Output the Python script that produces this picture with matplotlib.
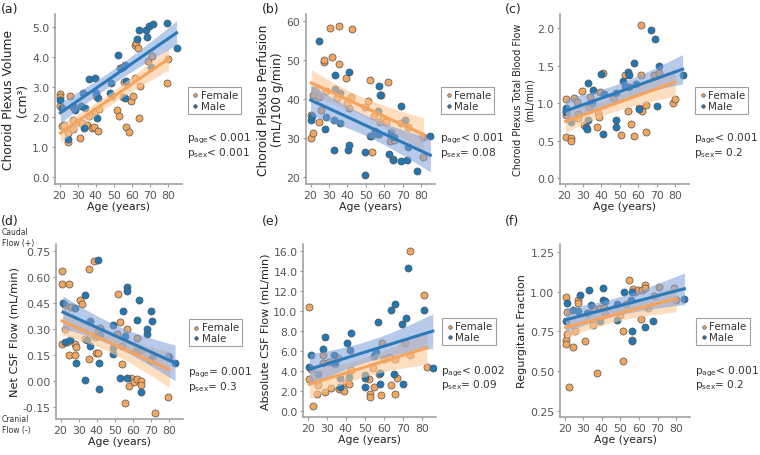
import numpy as np
import matplotlib
matplotlib.use("Agg")
import matplotlib.pyplot as plt

# ---------------- data ----------------
# (a) Choroid plexus volume (cm3)
a_f_age = [20.5, 20.5, 20.5, 21.4, 22.7, 24.6, 24.6, 25.5, 27.3, 27.3, 27.3, 31.2, 30.0, 32.4, 35.0, 36.5,
           37.9, 38.8, 39.5, 40.0, 41.0, 41.5, 49.0, 51.6, 52.5, 53.4, 54.8, 55.7, 56.9, 58.2, 59.6, 60.5,
           61.4, 62.2, 63.1, 64.0, 64.5, 68.5, 71.1, 79.1, 80.0, 61.7]
a_f_val = [2.76, 2.67, 2.37, 1.69, 1.72, 1.48, 1.17, 2.70, 2.33, 1.89, 1.61, 1.30, 1.85, 1.80, 1.72, 2.05,
           1.63, 1.67, 2.20, 2.70, 1.52, 2.28, 2.70, 2.22, 2.03, 3.63, 2.67, 3.17, 1.67, 1.50, 2.53, 2.70,
           4.39, 4.47, 4.30, 1.98, 3.03, 3.86, 4.02, 3.12, 3.94, 3.30]
a_m_age = [20.5, 21.4, 24.6, 28.0, 28.5, 32.0, 33.0, 33.4, 34.2, 36.0, 39.5, 40.4, 41.3, 40.0, 48.0, 48.6,
           52.1, 53.9, 54.8, 56.0, 56.0, 56.4, 62.8, 63.7, 67.6, 68.0, 69.3, 71.5, 70.6, 79.1, 84.5]
a_m_val = [2.58, 2.30, 1.28, 2.33, 2.24, 2.37, 2.81, 1.63, 2.31, 3.28, 3.31, 1.98, 2.63, 2.81, 2.80, 3.13,
           4.06, 3.64, 3.67, 3.72, 2.64, 3.19, 4.59, 4.89, 4.91, 4.67, 5.03, 5.09, 3.67, 5.14, 4.30]

# (b) Choroid plexus perfusion (mL/100 g/min)
b_f_age = [20.4, 20.4, 21.3, 21.3, 22.2, 24.3, 24.3, 25.4, 27.2, 27.2, 28.5, 30.3, 31.6, 35.4, 35.4, 34.3,
           39.2, 41.1, 39.7, 42.4, 42.0, 49.3, 51.1, 52.3, 52.3, 53.4, 54.3, 56.0, 57.4, 58.3, 59.2, 61.0,
           61.9, 63.2, 64.6, 65.5, 69.1, 72.8, 80.9, 81.2]
b_f_val = [30.0, 36.0, 31.3, 41.0, 42.4, 40.4, 34.2, 37.2, 49.4, 50.0, 42.1, 58.3, 50.8, 58.7, 49.1, 40.2,
           45.5, 37.6, 39.0, 57.9, 40.4, 38.0, 39.6, 44.8, 30.4, 26.4, 35.6, 31.1, 34.2, 40.9, 35.1, 34.2,
           44.4, 29.2, 24.7, 29.6, 33.9, 32.9, 30.3, 25.1]
b_m_age = [20.0, 20.9, 24.3, 27.6, 28.5, 32.5, 33.0, 33.4, 32.5, 36.1, 36.1, 40.3, 41.1, 41.1, 49.3, 49.3,
           52.9, 54.7, 56.5, 57.0, 57.4, 57.0, 62.8, 63.7, 64.6, 65.5, 68.8, 69.1, 71.0, 72.2, 73.1, 77.8, 85.0]
b_m_val = [34.7, 35.6, 54.8, 32.2, 35.3, 26.8, 46.1, 42.6, 34.5, 33.9, 41.6, 27.0, 47.0, 28.3, 26.4, 20.4,
           30.4, 31.9, 36.8, 43.4, 41.0, 31.1, 26.0, 31.5, 24.3, 30.2, 38.3, 24.1, 34.6, 24.3, 27.6, 21.5, 30.4]

# (c) Choroid plexus total blood flow (mL/min)
c_f_age = [20.5, 20.5, 20.5, 21.0, 23.6, 23.6, 25.0, 26.6, 27.2, 27.2, 29.5, 30.7, 34.0, 33.4, 37.5, 38.3,
           38.8, 39.3, 41.1, 46.5, 50.4, 53.0, 54.3, 56.1, 57.6, 61.2, 60.3, 62.0, 61.5, 63.9, 64.4, 68.3,
           71.4, 79.0, 80.0]
c_f_val = [1.05, 0.90, 0.84, 0.55, 0.53, 0.50, 1.07, 1.02, 0.86, 0.80, 1.16, 0.71, 1.08, 0.95, 0.68, 0.87,
           0.81, 1.15, 1.40, 1.07, 0.58, 1.38, 0.89, 0.72, 0.56, 2.04, 0.93, 0.89, 1.38, 0.62, 0.97, 1.37,
           1.40, 1.00, 1.06]
c_m_age = [20.5, 20.5, 23.6, 32.5, 31.6, 32.0, 32.5, 35.2, 34.7, 40.0, 40.6, 41.5, 47.7, 47.7, 47.7, 51.7,
           53.0, 54.3, 54.8, 55.2, 57.9, 58.8, 60.6, 66.9, 69.3, 70.1, 71.4, 84.0]
c_m_val = [0.94, 0.88, 0.75, 1.27, 0.68, 0.66, 0.78, 1.18, 1.00, 1.39, 0.59, 1.12, 1.14, 0.77, 0.68, 1.30,
           1.23, 1.42, 1.38, 1.21, 1.54, 1.26, 0.92, 1.98, 1.85, 0.96, 1.49, 1.38]

# (d) Net CSF flow (mL/min)
d_f_age = [20.9, 20.9, 20.9, 22.2, 22.2, 23.3, 24.5, 24.9, 26.0, 27.8, 28.2, 28.7, 30.5, 31.8, 33.3, 35.5,
           35.5, 38.2, 39.5, 40.9, 39.1, 40.4, 41.8, 50.9, 51.8, 52.7, 53.7, 53.7, 55.5, 56.4, 57.7, 58.8,
           60.6, 61.5, 62.4, 62.4, 64.2, 64.6, 64.6, 79.2, 80.0, 71.8, 69.1]
d_f_val = [0.635, 0.558, 0.215, 0.302, 0.436, 0.225, 0.558, 0.148, 0.427, 0.210, 0.148, 0.196, 0.469, 0.442,
           0.244, 0.125, 0.644, 0.692, 0.162, 0.162, 0.254, 0.286, 0.306, 0.270, 0.504, 0.337, 0.100, 0.202,
           -0.125, 0.302, -0.030, 0.019, -0.006, 0.171, 0.248, 0.008, 0.000, -0.023, 0.177, -0.092, 0.139,
           -0.188, 0.120]
d_m_age = [21.3, 22.2, 25.1, 28.2, 28.7, 33.3, 33.7, 34.6, 36.4, 36.4, 40.4, 41.3, 41.3, 41.8, 49.1, 49.1,
           49.1, 52.7, 54.6, 55.5, 56.4, 56.4, 56.4, 62.4, 63.3, 64.2, 67.7, 67.7, 69.7, 70.4, 71.0, 79.5, 83.1]
d_m_val = [0.450, 0.225, 0.235, 0.423, 0.104, 0.494, 0.004, 0.235, 0.346, 0.200, 0.700, 0.106, -0.048, 0.267,
           0.325, 0.154, 0.192, 0.019, 0.404, 0.260, 0.542, 0.517, 0.019, 0.350, 0.465, -0.063, 0.302, 0.273,
           0.404, 0.344, 0.144, 0.142, 0.106]

# (e) Absolute CSF flow (mL/min)
e_f_age = [20.9, 20.9, 21.8, 23.0, 24.9, 25.2, 28.0, 28.0, 29.0, 31.2, 32.1, 35.7, 36.3, 39.0, 40.2, 41.7,
           42.9, 52.0, 52.9, 52.9, 54.2, 55.0, 57.4, 58.3, 59.2, 60.1, 62.8, 64.0, 65.9, 65.9, 67.0, 71.0,
           73.7, 73.7, 81.4, 82.7]
e_f_val = [10.4, 3.17, 4.17, 0.5, 1.67, 2.57, 5.57, 4.83, 1.9, 4.93, 2.33, 5.27, 2.17, 2.0, 2.77, 2.73,
           4.1, 3.17, 1.73, 1.4, 4.33, 2.4, 3.73, 1.6, 6.77, 5.17, 5.4, 2.6, 1.73, 5.17, 3.27, 6.77,
           16.0, 5.57, 11.57, 4.43]
e_m_age = [20.9, 21.8, 25.2, 28.0, 29.0, 33.9, 34.5, 37.0, 37.0, 40.8, 42.0, 42.9, 41.7, 50.2, 50.2, 50.2,
           54.7, 56.1, 57.0, 57.9, 57.9, 63.7, 65.2, 65.9, 69.7, 70.1, 71.9, 72.8, 81.4, 85.8]
e_m_val = [4.43, 5.6, 3.67, 6.17, 7.4, 5.6, 4.67, 2.4, 3.27, 6.77, 6.07, 7.83, 3.4, 3.27, 2.4, 3.6,
           5.5, 5.93, 8.93, 3.83, 2.73, 10.1, 3.73, 10.67, 8.73, 2.67, 9.33, 14.33, 10.07, 4.33]

# (f) Regurgitant fraction
f_f_age = [20.5, 20.5, 20.5, 21.4, 21.4, 22.3, 24.5, 25.4, 27.2, 27.2, 31.1, 35.2, 35.2, 37.5, 39.2, 41.0,
           41.5, 49.9, 51.3, 51.3, 53.1, 54.9, 56.3, 56.7, 57.9, 59.4, 61.2, 61.7, 63.5, 63.5, 64.7, 68.3,
           71.0, 79.0, 80.0]
f_f_val = [0.966, 0.696, 0.671, 0.871, 0.734, 0.397, 0.650, 0.751, 0.945, 0.928, 0.688, 0.787, 0.898, 0.486,
           0.896, 0.896, 0.860, 0.850, 0.755, 0.561, 0.924, 1.075, 0.696, 1.014, 0.998, 1.008, 0.829, 1.008,
           1.040, 1.025, 0.896, 0.972, 1.029, 1.025, 0.950]
f_m_age = [20.5, 21.4, 24.5, 27.2, 28.0, 32.2, 32.9, 34.3, 40.6, 40.6, 41.8, 39.2, 48.3, 48.3, 52.2, 55.8,
           56.2, 56.3, 56.3, 63.0, 67.4, 84.5]
f_m_val = [0.818, 0.930, 0.886, 0.877, 0.980, 0.867, 1.008, 0.913, 1.025, 0.945, 0.940, 0.814, 0.924, 0.823,
           0.998, 0.945, 0.998, 0.755, 0.688, 0.780, 0.814, 0.955]

panel_letters = ["(a)", "(b)", "(c)", "(d)", "(e)", "(f)"]
y_labels = ["Choroid Plexus Volume\n(cm³)", "Choroid Plexus Perfusion\n(mL/100 g/min)",
            "Choroid Plexus Total Blood Flow\n(mL/min)", "Net CSF Flow (mL/min)",
            "Absolute CSF Flow (mL/min)", "Regurgitant Fraction"]
y_ticks = [[0.0, 1.0, 2.0, 3.0, 4.0, 5.0], [20, 30, 40, 50, 60], [0.0, 0.5, 1.0, 1.5, 2.0],
           [-0.15, 0.0, 0.15, 0.30, 0.45, 0.60, 0.75], [0, 2, 4, 6, 8, 10, 12, 14, 16],
           [0.25, 0.50, 0.75, 1.00, 1.25]]
y_fmt = ["{:.1f}", "{:.0f}", "{:.1f}", "{:.2f}", "{:.1f}", "{:.2f}"]
y_lims = [(-0.23, 5.43), (18.2, 61.8), (-0.08, 2.19), (-0.22, 0.79), (-0.6, 16.7), (0.21, 1.30)]
x_ticks = [20, 30, 40, 50, 60, 70, 80]
p_age = ["< 0.001", "< 0.001", "< 0.001", "= 0.001", "< 0.002", "< 0.001"]
p_sex = ["< 0.001", "= 0.08", "= 0.2", "= 0.3", "= 0.09", "= 0.2"]
sex_labels = ["Female", "Male"]

data = [(a_f_age, a_f_val, a_m_age, a_m_val), (b_f_age, b_f_val, b_m_age, b_m_val),
        (c_f_age, c_f_val, c_m_age, c_m_val), (d_f_age, d_f_val, d_m_age, d_m_val),
        (e_f_age, e_f_val, e_m_age, e_m_val), (f_f_age, f_f_val, f_m_age, f_m_val)]

# ---------------- style ----------------
plt.rcParams['font.family'] = ['DejaVu Sans']
W, H = 760, 456
fig = plt.figure(figsize=(W / 100, H / 100), dpi=100)

# axes boxes in pixels: left, right, top, bottom
boxes = [(55, 182, 15, 185), (306, 435, 15, 185), (560, 689, 15, 185),
         (56, 183, 245, 420), (303, 436, 245, 418), (560, 690, 245, 418)]
letter_pos = [(1, 9), (262, 9), (505, 9), (1, 222), (262, 222), (505, 222)]
ylabel_size = [8.8, 8.8, 6.9, 8.2, 8.0, 8.0]

F_PT = "#f2a55c"
F_LINE = "#f7a35c"
F_BAND = "#fdc896"
M_PT = "#1f77b4"
M_LINE = "#2b7bba"
M_BAND = "#7f9fd8"
SPINE = "#9a9a9a"
TXT = "#555555"


def ols_bands(fa, fv, ma, mv):
    ages = np.concatenate([fa, ma])
    vals = np.concatenate([fv, mv])
    sex = np.concatenate([np.zeros(len(fa)), np.ones(len(ma))])
    X = np.column_stack([np.ones_like(ages), ages, sex])
    beta, *_ = np.linalg.lstsq(X, vals, rcond=None)
    resid = vals - X @ beta
    dof = len(vals) - 3
    s2 = resid @ resid / dof
    cov = s2 * np.linalg.inv(X.T @ X)
    out = []
    for s, grp in ((0, fa), (1, ma)):
        xs = np.linspace(min(grp), max(grp), 100)
        Xg = np.column_stack([np.ones_like(xs), xs, np.full_like(xs, s)])
        yhat = Xg @ beta
        se = np.sqrt(np.einsum('ij,jk,ik->i', Xg, cov, Xg))
        out.append((xs, yhat, yhat - 1.99 * se, yhat + 1.99 * se))
    return out


for i, (fa, fv, ma, mv) in enumerate(data):
    l, r, t, b = boxes[i]
    ax = fig.add_axes([l / W, 1 - b / H, (r - l) / W, (b - t) / H])
    ax.set_facecolor('white')
    ax.scatter(fa, fv, s=26, c=F_PT, edgecolors='#555555', linewidths=0.5, zorder=2, label=sex_labels[0])
    ax.scatter(ma, mv, s=26, c=M_PT, edgecolors='#555555', linewidths=0.5, zorder=2, label=sex_labels[1])
    (fx, fy, flo, fhi), (mx, my, mlo, mhi) = ols_bands(np.array(fa), np.array(fv), np.array(ma), np.array(mv))
    ax.fill_between(fx, flo, fhi, color=F_BAND, alpha=0.6, lw=0, zorder=3)
    ax.fill_between(mx, mlo, mhi, color=M_BAND, alpha=0.55, lw=0, zorder=3)
    ax.plot(fx, fy, color=F_LINE, lw=2.2, zorder=4)
    ax.plot(mx, my, color=M_LINE, lw=2.2, zorder=4)

    ax.set_xlim(17.5, 87.5)
    ax.set_ylim(*y_lims[i])
    ax.set_xticks(x_ticks)
    ax.set_xticklabels([str(v) for v in x_ticks])
    ax.set_yticks(y_ticks[i])
    ax.set_yticklabels([y_fmt[i].format(v) for v in y_ticks[i]])
    for side in ('top', 'right'):
        ax.spines[side].set_visible(False)
    for side in ('left', 'bottom'):
        ax.spines[side].set_color(SPINE)
        ax.spines[side].set_linewidth(1.1)
    ax.tick_params(axis='both', labelsize=7.8, colors=SPINE, labelcolor=TXT, length=2.5, width=0.8, pad=1.5)
    ax.set_xlabel("Age (years)", fontsize=7.8, color='#222222', labelpad=1)
    ax.set_ylabel(y_labels[i], fontsize=ylabel_size[i], color='#222222', labelpad=2, linespacing=1.1)

    leg = ax.legend(loc='upper left', bbox_to_anchor=(1.045, 0.57), fontsize=7.4, frameon=True,
                    handletextpad=0.1, borderpad=0.3, labelspacing=0.05, handlelength=0.9,
                    markerscale=0.5, fancybox=False, borderaxespad=0)
    leg.get_frame().set_edgecolor('#888888')
    leg.get_frame().set_linewidth(0.8)
    for txt in leg.get_texts():
        txt.set_color('#333333')

    ax.text(1.04, 0.23, r"p$_{\rm age}$" + p_age[i] + "\n" + r"p$_{\rm sex}$" + p_sex[i],
            transform=ax.transAxes, fontsize=7.6, color='#333333', va='center', ha='left',
            linespacing=0.95)

    lx, ly = letter_pos[i]
    fig.text(lx / W, 1 - ly / H, panel_letters[i], fontsize=9, color='#222222', va='center', ha='left')

fig.text(2 / W, 1 - 238 / H, "Caudal\nFlow (+)", fontsize=5.5, color='#333333', va='center', ha='left',
         linespacing=1.15)
fig.text(2 / W, 1 - 425 / H, "Cranial\nFlow (-)", fontsize=5.5, color='#333333', va='center', ha='left',
         linespacing=1.15)

fig.savefig("out.png", dpi=100, facecolor='white')
